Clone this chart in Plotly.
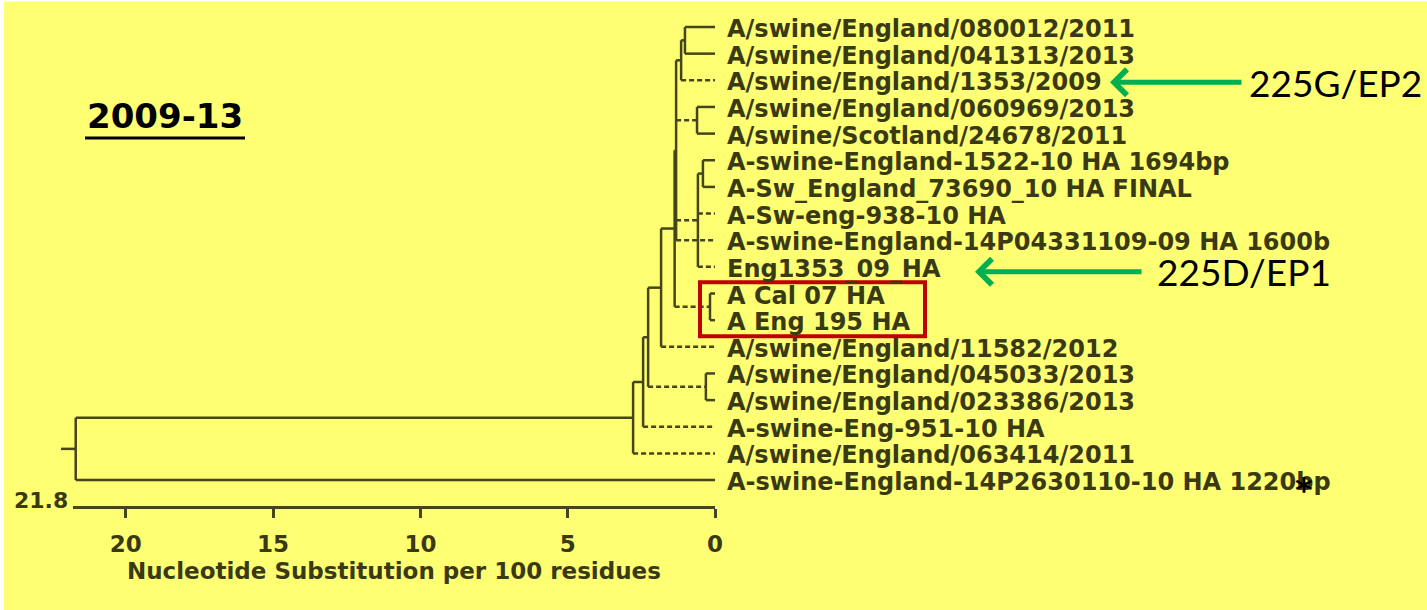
import plotly.graph_objects as go

# ---------------- data ----------------
LEAF_LABELS = [
    "A/swine/England/080012/2011",
    "A/swine/England/041313/2013",
    "A/swine/England/1353/2009",
    "A/swine/England/060969/2013",
    "A/swine/Scotland/24678/2011",
    "A-swine-England-1522-10 HA 1694bp",
    "A-Sw_England_73690_10 HA FINAL",
    "A-Sw-eng-938-10 HA",
    "A-swine-England-14P04331109-09 HA 1600b",
    "Eng1353_09_HA",
    "A Cal 07 HA",
    "A Eng 195 HA",
    "A/swine/England/11582/2012",
    "A/swine/England/045033/2013",
    "A/swine/England/023386/2013",
    "A-swine-Eng-951-10 HA",
    "A/swine/England/063414/2011",
    "A-swine-England-14P2630110-10 HA 1220bp",
]
# internal nodes: id, distance from the tips (substitutions per 100 residues), children
NODE_IDS = ["root", "n1", "n2", "n3", "n4", "n5", "p", "b", "a", "c45", "d", "e", "ce", "c1415"]
NODE_DIST = [21.7, 2.78, 2.44, 2.27, 1.83, 1.37, 1.32, 1.15, 1.02, 0.61, 0.58, 0.41, 0.17, 0.31]
NODE_CHILDREN = [
    ["n1", 17], ["n2", 16], ["n3", 15], ["n4", "c1415"], ["n5", 12], ["p", "ce"],
    ["b", "c45", "d", 8], ["a", 2], [0, 1], [3, 4], ["e", 7, 9], [5, 6], [10, 11], [13, 14],
]
SCALE_TICKS = [0, 5, 10, 15, 20]
SCALE_MAX = 21.8
SCALE_TITLE = "Nucleotide Substitution per 100 residues"
PANEL_TITLE = "2009-13"
CALLOUTS = ["225G/EP2", "225D/EP1"]
CALLOUT_LEAVES = [2, 9]
BOXED_LEAVES = [10, 11]
STAR_LEAF = 17

# ---------------- style ----------------
DASHED = {2, "c45", "d", 7, 8, 9, "ce", 12, "c1415", 15, 16}
W, H = 1427, 610
BG = "#FFFF73"
INK = "#45451a"
TXT = "#3a3a12"
GREEN = "#00B050"
RED = "#C00000"
X0_PX, PX_PER_UNIT = 715.0, 29.46
Y0_PX, ROW_PX = 27.0, 26.65
ROOT_STUB = 0.5

XR = [X0_PX / PX_PER_UNIT, (X0_PX - W) / PX_PER_UNIT]
YR = [(H - Y0_PX) / ROW_PX, -Y0_PX / ROW_PX]


def px_x(px):
    return px / W


def px_y(py):
    return 1 - py / H


node_dist = dict(zip(NODE_IDS, NODE_DIST))
node_kids = dict(zip(NODE_IDS, NODE_CHILDREN))


def dist(n):
    return 0.0 if isinstance(n, int) else node_dist[n]


def ypos(n):
    if isinstance(n, int):
        return float(n)
    ys = [ypos(c) for c in node_kids[n]]
    return (min(ys) + max(ys)) / 2


solid_x, solid_y, dash_x, dash_y = [], [], [], []


def add(xs, ys, dashed):
    tx, ty = (dash_x, dash_y) if dashed else (solid_x, solid_y)
    tx.extend(list(xs) + [None])
    ty.extend(list(ys) + [None])


for n in NODE_IDS:
    d = node_dist[n]
    ys = [ypos(c) for c in node_kids[n]]
    add([d, d], [min(ys), max(ys)], False)
    for c, yc in zip(node_kids[n], ys):
        add([d, dist(c)], [yc, yc], c in DASHED)
root_y = ypos("root")
add([node_dist["root"] + ROOT_STUB, node_dist["root"]], [root_y, root_y], False)

fig = go.Figure()
fig.add_trace(go.Scatter(x=[SCALE_MAX, 0], y=[root_y, root_y], xaxis="x2", yaxis="y", mode="markers",
                         marker=dict(opacity=0), hoverinfo="skip", showlegend=False))
fig.add_trace(go.Scatter(x=solid_x, y=solid_y, mode="lines",
                         line=dict(color=INK, width=2.5), hoverinfo="skip", showlegend=False))
fig.add_trace(go.Scatter(x=dash_x, y=dash_y, mode="lines",
                         line=dict(color=INK, width=2.5, dash="5px,3px"), hoverinfo="skip", showlegend=False))

LABEL_FONT = dict(family="DejaVu Sans", size=24, color=TXT, weight="bold")
ann = []
for i, lab in enumerate(LEAF_LABELS):
    ann.append(dict(x=0, y=i, xref="x", yref="y", text=lab, xanchor="left", yanchor="middle",
                    xshift=10, yshift=-2, showarrow=False, font=LABEL_FONT))

# scale label at root end
ann.append(dict(x=px_x(70), y=px_y(500), xref="paper", yref="paper", text=str(SCALE_MAX),
                xanchor="right", yanchor="middle", showarrow=False,
                font=dict(family="DejaVu Sans", size=22, color=TXT, weight="bold")))

# panel title
ann.append(dict(x=px_x(165), y=px_y(116), xref="paper", yref="paper", text=PANEL_TITLE,
                xanchor="center", yanchor="middle", showarrow=False,
                font=dict(family="DejaVu Sans", size=34, color="black", weight="bold")))

# callouts
tips = [1110, 975]
tails = [1243, 1143]
label_x = [1247, 1155]
label_dy = [-2, -5]
for k, (txt, leaf) in enumerate(zip(CALLOUTS, CALLOUT_LEAVES)):
    ann.append(dict(x=px_x(tips[k]), y=leaf, xref="paper", yref="y", text="", showarrow=True,
                    ax=tails[k] - tips[k], ay=0, axref="pixel", ayref="pixel",
                    arrowhead=4, arrowsize=1, arrowwidth=5, arrowcolor=GREEN, standoff=0,
                    yshift=label_dy[k]))
    ann.append(dict(x=px_x(label_x[k]), y=leaf, xref="paper", yref="y", text=txt,
                    xanchor="left", yanchor="middle", yshift=label_dy[k], showarrow=False,
                    font=dict(family="Lato", size=37, color="black")))

# asterisk
ann.append(dict(x=px_x(1304), y=STAR_LEAF, xref="paper", yref="y", text="*",
                xanchor="center", yanchor="middle", yshift=-10, showarrow=False,
                font=dict(family="DejaVu Sans", size=34, color="black", weight="bold")))

shapes = [
    dict(type="rect", xref="paper", yref="paper", x0=0, x1=px_x(4), y0=0, y1=1,
         fillcolor="white", line=dict(width=0), layer="below"),
    dict(type="rect", xref="paper", yref="paper", x0=0, x1=1, y0=px_y(1.5), y1=1,
         fillcolor="white", line=dict(width=0), layer="below"),
    dict(type="line", xref="paper", yref="paper", x0=px_x(85), x1=px_x(245),
         y0=px_y(138), y1=px_y(138), line=dict(color="black", width=3)),
    dict(type="rect", xref="paper", yref="y", x0=px_x(700), x1=px_x(925),
         y0=min(BOXED_LEAVES) - 0.42, y1=max(BOXED_LEAVES) + 0.6,
         line=dict(color=RED, width=4), fillcolor="rgba(0,0,0,0)"),
]

dom0 = (XR[0] - SCALE_MAX) / (XR[0] - XR[1])
dom1 = XR[0] / (XR[0] - XR[1])

fig.update_layout(
    width=W, height=H,
    margin=dict(l=0, r=0, t=0, b=0),
    paper_bgcolor=BG, plot_bgcolor="rgba(0,0,0,0)",
    showlegend=False,
    xaxis=dict(range=XR, visible=False, fixedrange=True),
    yaxis=dict(range=YR, visible=False, fixedrange=True),
    xaxis2=dict(range=[SCALE_MAX, 0], domain=[dom0, dom1], anchor="free", position=px_y(507),
                showgrid=False, zeroline=False,
                showline=True, linecolor=INK, linewidth=2.5,
                ticks="outside", ticklen=9, tickwidth=2.5, tickcolor=INK,
                tickvals=SCALE_TICKS, ticktext=[str(t) for t in SCALE_TICKS],
                ticklabelstandoff=7,
                tickfont=dict(family="DejaVu Sans", size=23, color=TXT, weight="bold"),
                title=dict(text=SCALE_TITLE, standoff=6,
                           font=dict(family="DejaVu Sans", size=23, color=TXT, weight="bold")),
                automargin=False, fixedrange=True),
    annotations=ann,
    shapes=shapes,
)

fig.write_html("out.html", config={"displayModeBar": False},
               post_script="document.body.style.margin='0px';document.body.style.overflow='hidden';")
